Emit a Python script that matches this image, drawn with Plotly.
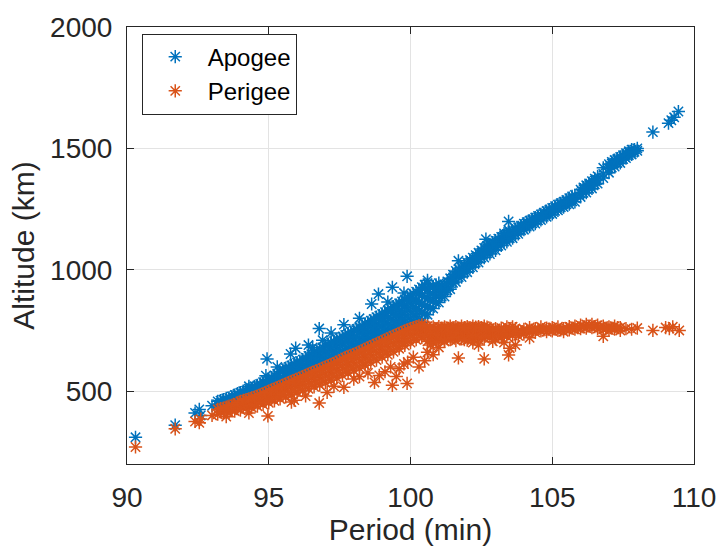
import plotly.graph_objects as go

# ---- Data (period in min, altitude in km) ----
# Apogee: dense band, listed column by column (period, [altitudes])
apogee_columns = [
    (93.2, [445, 458]), (93.4, [448, 465]), (93.6, [455, 472]),
    (93.8, [460, 472, 484]), (94.0, [466, 480, 494]), (94.2, [472, 488, 502]),
    (94.4, [480, 496, 512]), (94.6, [488, 505, 524]), (94.8, [496, 515, 537]),
    (95.0, [504, 526, 548]), (95.2, [512, 538, 565]), (95.4, [520, 550, 580]),
    (95.6, [530, 560, 580, 595]), (95.8, [540, 565, 585, 606]),
    (96.0, [550, 572, 595, 618]), (96.2, [560, 583, 606, 630]),
    (96.4, [570, 595, 620, 645]), (96.6, [580, 605, 632, 660]),
    (96.8, [590, 617, 645, 672]), (97.0, [600, 628, 658, 688]),
    (97.2, [610, 640, 670, 700]), (97.4, [620, 650, 682, 712]),
    (97.6, [632, 662, 694, 725]), (97.8, [643, 675, 706, 738]),
    (98.0, [655, 686, 718, 750]), (98.2, [665, 690, 715, 740, 762]),
    (98.4, [676, 701, 726, 751, 776]), (98.6, [688, 713, 738, 764, 790]),
    (98.8, [698, 724, 750, 777, 805]), (99.0, [710, 737, 764, 791, 818]),
    (99.2, [720, 748, 776, 804, 832]), (99.4, [732, 760, 790, 820, 848]),
    (99.6, [744, 773, 803, 833, 862]), (99.8, [754, 785, 816, 847, 878]),
    (100.0, [764, 796, 828, 860, 892]), (100.2, [774, 808, 842, 876, 910]),
    (100.4, [784, 820, 856, 892, 928]), (100.6, [815, 850, 885, 920, 945]),
    (100.8, [840, 870, 900, 930]), (101.0, [865, 890, 915, 945]),
    (101.2, [890, 915, 940]), (101.4, [920, 945, 965]),
    (101.6, [950, 975, 995]), (101.8, [970, 990, 1010]),
    (102.0, [990, 1010, 1030]), (102.2, [1010, 1030, 1050]),
    (102.4, [1030, 1050, 1070]), (102.6, [1050, 1070, 1090]),
    (102.8, [1065, 1085, 1105]), (103.0, [1080, 1100, 1120]),
    (103.2, [1100, 1118, 1135]), (103.4, [1115, 1132, 1148]),
    (103.6, [1130, 1145, 1160]), (103.8, [1148, 1162, 1175]),
    (104.0, [1165, 1178, 1190]), (104.2, [1178, 1190, 1202]),
    (104.4, [1190, 1205, 1215]), (104.6, [1205, 1218, 1228]),
    (104.8, [1218, 1230, 1242]), (105.0, [1230, 1242, 1255]),
    (105.2, [1245, 1255, 1268]), (105.4, [1258, 1270, 1280]),
    (105.6, [1270, 1282, 1295]), (105.8, [1280, 1295, 1308]),
    (106.0, [1300, 1315, 1330]), (106.2, [1318, 1333, 1348]),
    (106.4, [1335, 1350, 1365]), (106.6, [1355, 1370, 1385]),
    (106.8, [1378, 1395, 1420]), (107.0, [1400, 1418, 1435]),
    (107.2, [1425, 1440, 1452]), (107.4, [1440, 1455, 1465]),
    (107.6, [1460, 1472, 1480]), (107.8, [1475, 1485, 1495]),
    (108.0, [1490, 1500]),
]
# Apogee: in-between columns of the same band
apogee_columns_b = [
    (93.3, [451, 461]), (93.5, [452, 462, 470]), (93.7, [458, 466, 478]),
    (93.9, [470, 483, 490]), (94.1, [476, 491, 500]), (94.3, [484, 500, 510]),
    (94.5, [493, 511, 520]), (94.7, [502, 522, 530]), (94.9, [510, 531, 542]),
    (95.1, [520, 544, 556]), (95.3, [530, 558, 572]), (95.5, [536, 558, 580, 588]),
    (95.7, [546, 568, 590, 600]), (95.9, [556, 579, 602, 612]),
    (96.1, [566, 589, 612, 624]), (96.3, [577, 602, 627, 638]),
    (96.5, [588, 615, 642, 652]), (96.7, [598, 625, 652, 666]),
    (96.9, [609, 637, 665, 680]), (97.1, [620, 650, 680, 694]),
    (97.3, [630, 660, 690, 706]), (97.5, [641, 672, 703, 718]),
    (97.7, [653, 684, 715, 732]), (97.9, [664, 695, 726, 744]),
    (98.1, [672, 698, 724, 750, 756]), (98.3, [682, 707, 732, 757, 769]),
    (98.5, [694, 720, 745, 770, 783]), (98.7, [706, 732, 757, 783, 797]),
    (98.9, [717, 744, 771, 798, 811]), (99.1, [729, 757, 784, 812, 825]),
    (99.3, [740, 769, 797, 826, 840]), (99.5, [753, 782, 812, 841, 855]),
    (99.7, [764, 795, 826, 857, 870]), (99.9, [775, 806, 838, 869, 885]),
    (100.1, [785, 817, 849, 881, 901]), (100.3, [796, 831, 866, 901, 919]),
    (100.5, [817, 852, 887, 922, 938]), (100.7, [843, 873, 903, 925]),
    (100.9, [866, 893, 920, 938]), (101.1, [890, 915, 928]),
    (101.3, [916, 940, 952]), (101.5, [946, 968, 980]),
    (101.7, [970, 990, 1002]), (101.9, [990, 1010, 1020]),
    (102.1, [1010, 1030, 1040]), (102.3, [1030, 1050, 1060]),
    (102.5, [1050, 1070, 1080]), (102.7, [1068, 1088, 1098]),
    (102.9, [1082, 1102, 1112]), (103.1, [1099, 1118, 1128]),
    (103.3, [1116, 1134, 1142]), (103.5, [1130, 1146, 1154]),
    (103.7, [1146, 1160, 1168]), (103.9, [1163, 1176, 1182]),
    (104.1, [1178, 1190, 1196]), (104.3, [1191, 1203, 1208]),
    (104.5, [1204, 1216, 1222]), (104.7, [1218, 1229, 1235]),
    (104.9, [1230, 1242, 1248]), (105.1, [1243, 1255, 1262]),
    (105.3, [1257, 1268, 1274]), (105.5, [1270, 1282, 1288]),
    (105.7, [1282, 1295, 1302]), (106.1, [1317, 1332, 1339]),
    (106.3, [1334, 1349, 1356]), (106.5, [1352, 1367, 1375]),
    (107.1, [1421, 1437, 1444]), (107.3, [1440, 1453, 1458]),
    (107.5, [1456, 1468, 1472]), (107.7, [1472, 1482, 1488]),
    (107.9, [1486, 1495]),
]
# Apogee: isolated / scattered points
apogee_extra_period = [90.3, 91.7, 92.4, 92.55, 92.6, 93.0, 108.55, 109.1, 109.2,
                       109.3, 109.45, 94.94, 94.9, 95.95, 95.77, 96.78, 97.65,
                       99.36, 99.77, 99.88, 100.6, 98.87, 99.2, 98.63, 101.69,
                       102.66, 103.46, 103.46, 103.3, 96.4, 96.55, 97.2, 98.2,
                       94.3, 95.3, 96.9]
apogee_extra_alt = [310, 360, 410, 425, 400, 440, 1567, 1604, 1616,
                    1628, 1652, 633, 564, 677, 653, 758, 774,
                    928, 904, 973, 956, 900, 867, 859, 1037,
                    1126, 1199, 1163, 1150, 690, 680, 740, 800,
                    520, 600, 710]

# Perigee: dense band and plateau, column by column
perigee_columns = [
    (93.2, [405, 425]), (93.4, [410, 430]), (93.6, [412, 438]), (93.8, [418, 445]),
    (94.0, [422, 440, 458]), (94.2, [428, 448, 465]), (94.4, [432, 455, 472]),
    (94.6, [438, 460, 480]), (94.8, [445, 468, 490]), (95.0, [452, 475, 500]),
    (95.2, [460, 484, 510]), (95.4, [468, 494, 520]), (95.6, [476, 503, 530]),
    (95.8, [485, 512, 540]), (96.0, [495, 522, 550]), (96.2, [502, 530, 560]),
    (96.4, [510, 540, 570]), (96.6, [518, 548, 580]), (96.8, [525, 557, 590]),
    (97.0, [535, 567, 600]), (97.2, [545, 577, 610]), (97.4, [555, 587, 620]),
    (97.6, [565, 598, 632]), (97.8, [575, 608, 643]), (98.0, [585, 618, 652]),
    (98.2, [595, 628, 662]), (98.4, [607, 640, 673]), (98.6, [618, 650, 684]),
    (98.8, [628, 660, 695]), (99.0, [640, 672, 706]), (99.2, [650, 683, 716]),
    (99.4, [662, 694, 728]), (99.6, [675, 705, 738]), (99.8, [688, 718, 748]),
    (100.0, [700, 730, 758]), (100.2, [712, 740, 766]), (100.4, [720, 748, 772]),
    (100.6, [705, 728, 750, 768]), (100.8, [700, 725, 748, 765]),
    (101.0, [710, 732, 752, 766]), (101.2, [705, 728, 750, 765]),
    (101.4, [712, 735, 755, 768]), (101.6, [708, 730, 752, 766]),
    (101.8, [715, 738, 758, 768]), (102.0, [710, 735, 755, 766]),
    (102.2, [718, 740, 758, 768]), (102.4, [712, 735, 755, 766]),
    (102.6, [718, 740, 758, 768]), (102.8, [720, 742, 760]),
    (103.0, [715, 738, 758]), (103.2, [720, 742, 760]), (103.4, [725, 745, 765]),
    (103.6, [730, 750, 765]), (103.8, [728, 748]), (104.0, [735, 755]),
    (104.2, [745, 762]), (104.4, [742, 758]), (104.6, [748, 765]),
    (104.8, [745, 760]), (105.0, [748, 762]), (105.2, [750, 765]),
    (105.4, [745, 758]), (105.6, [752, 766]), (105.8, [755, 768]),
    (106.0, [758, 772]), (106.2, [760, 775]), (106.4, [762, 775]),
    (106.6, [758, 772]), (106.8, [755, 768]), (107.0, [752, 765]),
    (107.2, [755, 768]), (107.4, [750, 762]), (107.6, [758]),
    (107.8, [755]), (108.0, [760]), (108.55, [750]), (109.0, [762]),
    (109.13, [758]), (109.25, [765]), (109.48, [750]),
]
# Perigee: in-between columns
perigee_columns_b = [
    (93.3, [415, 428]), (93.5, [420, 434]), (93.7, [422, 435, 442]),
    (93.9, [428, 444, 452]), (94.1, [435, 453, 462]), (94.3, [440, 460, 468]),
    (94.5, [446, 467, 476]), (94.7, [452, 474, 485]), (94.9, [460, 483, 495]),
    (95.1, [468, 493, 505]), (95.3, [476, 502, 515]), (95.5, [485, 512, 525]),
    (95.7, [494, 522, 535]), (95.9, [503, 531, 545]), (96.1, [512, 541, 555]),
    (96.3, [520, 550, 565]), (96.5, [529, 560, 575]), (96.7, [537, 569, 585]),
    (96.9, [546, 579, 595]), (97.1, [556, 589, 605]), (97.3, [566, 599, 615]),
    (97.5, [576, 610, 626]), (97.7, [587, 621, 638]), (97.9, [596, 631, 648]),
    (98.1, [606, 640, 657]), (98.3, [617, 651, 668]), (98.5, [628, 662, 679]),
    (98.7, [639, 672, 690]), (98.9, [650, 683, 700]), (99.1, [661, 695, 711]),
    (99.3, [672, 705, 722]), (99.5, [684, 716, 733]), (99.7, [697, 727, 743]),
    (99.9, [709, 738, 753]), (100.1, [720, 748, 762]), (100.3, [730, 756, 769]),
    (100.5, [732, 758, 770]), (100.7, [715, 740, 760]), (100.9, [712, 738, 758]),
    (101.1, [720, 742, 760]), (101.3, [716, 740, 760]), (101.5, [722, 745, 762]),
    (101.7, [720, 742, 760]), (101.9, [726, 748, 762]), (102.1, [722, 745, 762]),
    (102.3, [728, 750, 764]), (102.5, [724, 746, 762]), (102.7, [730, 750, 764]),
    (102.9, [730, 752]), (103.1, [728, 750]), (103.3, [732, 752]),
    (103.5, [738, 758]), (103.7, [740, 758]), (103.9, [745]), (104.1, [752]),
    (104.3, [750]), (104.5, [755]), (104.7, [752]), (104.9, [756]),
    (105.1, [755]), (105.3, [752]), (105.5, [758]), (105.7, [760]),
    (105.9, [762]), (106.1, [765]), (106.3, [768]), (106.5, [766]),
    (106.7, [764]), (106.9, [760]), (107.1, [760]), (107.3, [762]),
]
# Perigee: isolated / scattered points
perigee_extra_period = [90.3, 91.7, 92.4, 92.55, 92.6, 93.0,
                        100.5, 100.6, 100.7, 100.9, 101.0, 101.2, 100.8,
                        101.69, 102.6, 103.46, 103.5, 103.3, 102.4, 102.9,
                        103.7, 101.9, 102.2, 104.2, 106.8, 100.3, 99.6, 99.77,
                        99.88, 99.36, 98.73, 97.65, 97.06, 96.78, 95.9, 95.8,
                        94.97, 98.2, 98.5, 99.1, 99.3, 98.9, 96.3, 93.5, 94.3,
                        97.3, 98.0, 99.5, 100.1, 99.9]
perigee_extra_alt = [270, 345, 375, 370, 385, 400,
                     625, 660, 690, 700, 680, 705, 650,
                     637, 633, 649, 677, 700, 690, 705,
                     690, 712, 700, 720, 726, 600, 592, 612,
                     532, 524, 536, 516, 495, 451, 463, 455,
                     398, 560, 575, 580, 600, 565, 480, 395, 410,
                     520, 550, 560, 640, 620]

x_ticks = [90, 95, 100, 105, 110]
y_ticks = [500, 1000, 1500, 2000]

# ---- Flatten ----
apogee_period, apogee_alt = [], []
for p, alts in apogee_columns + apogee_columns_b:
    for a in alts:
        apogee_period.append(p)
        apogee_alt.append(a)
apogee_period += apogee_extra_period
apogee_alt += apogee_extra_alt

perigee_period, perigee_alt = [], []
for p, alts in perigee_columns + perigee_columns_b:
    for a in alts:
        perigee_period.append(p)
        perigee_alt.append(a)
perigee_period += perigee_extra_period
perigee_alt += perigee_extra_alt

BLUE = "#0072BD"
ORANGE = "#D95319"
TXT = "#262626"
FONT = "Liberation Sans, Arial, Helvetica, sans-serif"

fig = go.Figure()
fig.add_trace(go.Scatter(
    x=apogee_period, y=apogee_alt, mode="markers", name="Apogee",
    marker=dict(symbol="asterisk-open", size=11, color=BLUE,
                line=dict(color=BLUE, width=1.5)),
))
fig.add_trace(go.Scatter(
    x=perigee_period, y=perigee_alt, mode="markers", name="Perigee",
    marker=dict(symbol="asterisk-open", size=11, color=ORANGE,
                line=dict(color=ORANGE, width=1.5)),
))

axis_common = dict(
    showline=True, linecolor=TXT, linewidth=1, mirror="ticks",
    ticks="inside", ticklen=7, tickcolor=TXT, tickwidth=1,
    showgrid=True, gridcolor="#e3e3e3", gridwidth=1, zeroline=False,
    tickfont=dict(family=FONT, size=28, color=TXT),
)

fig.update_layout(
    width=728, height=548, autosize=False,
    margin=dict(l=127, r=26, t=20, b=83),
    plot_bgcolor="white", paper_bgcolor="white",
    font=dict(family=FONT, color=TXT),
    xaxis=dict(range=[90, 110], tickvals=x_ticks, ticklabelstandoff=8,
               title=dict(text="Period (min)", font=dict(family=FONT, size=30, color=TXT),
                          standoff=2),
               **axis_common),
    yaxis=dict(range=[200, 2000], tickvals=y_ticks, ticklabelstandoff=8,
               title=dict(text="Altitude (km)", font=dict(family=FONT, size=30, color=TXT),
                          standoff=6),
               **axis_common),
    showlegend=True,
    legend=dict(x=0.026, y=0.985, xanchor="left", yanchor="top",
                bgcolor="white", bordercolor=TXT, borderwidth=1,
                font=dict(family=FONT, size=24, color="black"),
                itemwidth=55),
)

fig.write_html("out.html")
